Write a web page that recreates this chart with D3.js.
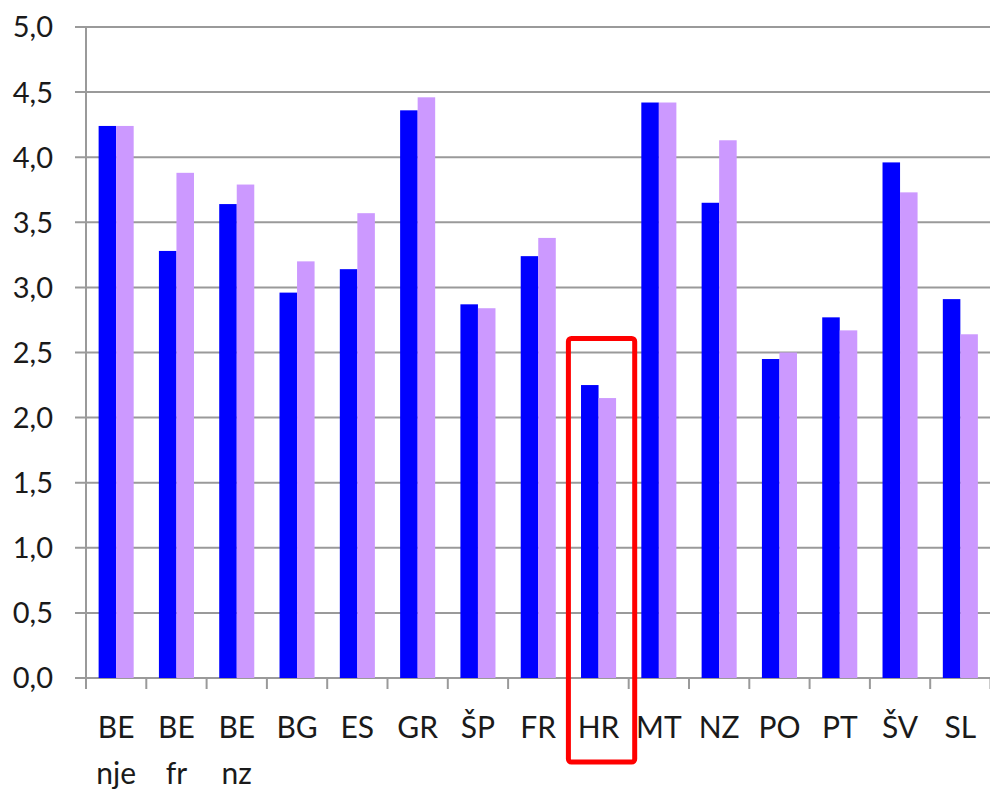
<!DOCTYPE html>
<html>
<head>
<meta charset="utf-8">
<script src="https://cdn.jsdelivr.net/npm/d3@7"></script>
<style>
  html, body { margin: 0; padding: 0; background: #fff; }
  svg { display: block; }
  text { font-family: Lato, "Open Sans", sans-serif; fill: #1a1a1a; }
</style>
</head>
<body>
<svg id="chart" width="990" height="792"></svg>
<script>
const categories = ["BE nje", "BE fr", "BE nz", "BG", "ES", "GR", "ŠP", "FR", "HR", "MT", "NZ", "PO", "PT", "ŠV", "SL"];
const seriesNames = ["s1", "s2"];
const series1 = [4.24, 3.28, 3.64, 2.96, 3.14, 4.36, 2.87, 3.24, 2.25, 4.42, 3.65, 2.45, 2.77, 3.96, 2.91];
const series2 = [4.24, 3.88, 3.79, 3.20, 3.57, 4.46, 2.84, 3.38, 2.15, 4.42, 4.13, 2.50, 2.67, 3.73, 2.64];
const yTicks = [0, 0.5, 1, 1.5, 2, 2.5, 3, 3.5, 4, 4.5, 5];
const colors = ["#0000ff", "#cc99ff"];
const highlight = "HR";

const svg = d3.select("#chart");
const margin = { left: 86, top: 27, right: 0, bottom: 114 };
const W = 904.5, H = 651;
const g = svg.append("g").attr("transform", `translate(${margin.left},${margin.top})`);

const x0 = d3.scaleBand().domain(categories).range([0, W]).padding(0);
const x1 = d3.scaleBand().domain(seriesNames).range([0, x0.bandwidth()]).paddingInner(0).paddingOuter(0.72);
const y = d3.scaleLinear().domain([0, 5]).range([H, 0]);

// gridlines
g.append("g").selectAll("line").data(yTicks).join("line")
  .attr("x1", -11).attr("x2", W)
  .attr("y1", d => y(d)).attr("y2", d => y(d))
  .attr("stroke", "#9a9a9a").attr("stroke-width", 2);

// y axis line
g.append("line").attr("x1", 0).attr("x2", 0).attr("y1", 0).attr("y2", H + 11)
  .attr("stroke", "#9a9a9a").attr("stroke-width", 2);

// y labels
g.append("g").selectAll("text").data(yTicks).join("text")
  .attr("x", -33).attr("y", d => y(d)).attr("dy", "0.36em")
  .attr("text-anchor", "end").style("font-size", "29px")
  .text(d => d.toFixed(1).replace(".", ","));

// bars
const data = categories.map((c, i) => ({ c, vals: [series1[i], series2[i]] }));
const groups = g.append("g").selectAll("g").data(data).join("g")
  .attr("transform", d => `translate(${x0(d.c)},0)`);
groups.selectAll("rect").data(d => d.vals.map((v, k) => ({ v, k }))).join("rect")
  .attr("x", d => x1(seriesNames[d.k]))
  .attr("width", x1.bandwidth())
  .attr("y", d => y(d.v))
  .attr("height", d => H - y(d.v))
  .attr("fill", d => colors[d.k]);

// category ticks
const bounds = categories.map(c => x0(c)).concat([W]);
g.append("g").selectAll("line").data(bounds).join("line")
  .attr("x1", d => d).attr("x2", d => d)
  .attr("y1", H).attr("y2", H + 11)
  .attr("stroke", "#9a9a9a").attr("stroke-width", 2);

// x labels
const xl = g.append("g").selectAll("text").data(categories).join("text")
  .attr("x", d => x0(d) + x0.bandwidth() / 2)
  .attr("y", H + 60)
  .attr("text-anchor", "middle").style("font-size", "30px");
xl.each(function(d) {
  const parts = d.split(" ");
  const t = d3.select(this);
  parts.forEach((p, i) => {
    t.append("tspan").attr("x", x0(d) + x0.bandwidth() / 2).attr("dy", i === 0 ? 0 : 46).text(p);
  });
});

// highlight box
const hx = x0(highlight);
const boxTop = y(2.6) - 1;
g.append("rect")
  .attr("x", hx).attr("y", boxTop)
  .attr("width", x0.bandwidth() + 6)
  .attr("height", (H + 84) - boxTop)
  .attr("rx", 3)
  .attr("fill", "none").attr("stroke", "#ff0000").attr("stroke-width", 5);
</script>
</body>
</html>
